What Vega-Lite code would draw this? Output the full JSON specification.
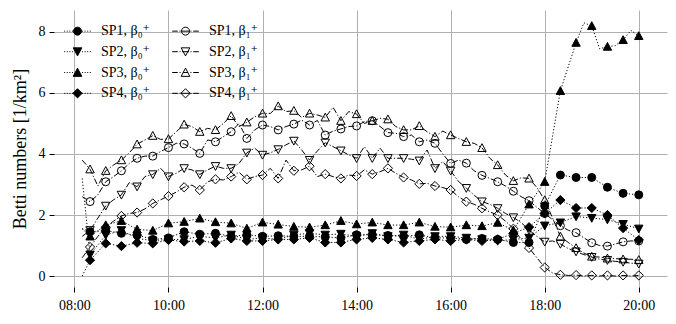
{
"$schema": "https://vega.github.io/schema/vega-lite/v6.json",
"width": 613, "height": 277,
"autosize": {"type": "none"},
"padding": {"left": 54, "top": 10, "right": 9, "bottom": 37},
"background": "white",
"config": {
  "font": "Liberation Serif, Times New Roman, DejaVu Serif, serif",
  "view": {"stroke": null},
  "axis": {"grid": true, "gridColor": "#b0b0b0", "gridWidth": 1, "domain": false, "tickColor": "black", "tickSize": 5, "tickWidth": 1,
           "labelFont": "Liberation Serif, Times New Roman, DejaVu Serif, serif", "labelFontSize": 14, "labelColor": "black", "labelPadding": 4,
           "titleFont": "Liberation Serif, Times New Roman, DejaVu Serif, serif", "titleFontWeight": "normal", "titleColor": "black"}
},
"data": {"format": {"parse": {"t": "date:'%H:%M'"}}, "values": [
{"t":"08:10","SP1_b0":1.55,"SP2_b0":3.2,"SP3_b0":1.55,"SP4_b0":0.0,"SP1_b1":2.6,"SP2_b1":1.3,"SP3_b1":3.8,"SP4_b1":0.6},
{"t":"08:20","SP1_b0":1.45,"SP2_b0":0.7,"SP3_b0":1.3,"SP4_b0":0.52,"SP1_b1":2.44,"SP2_b1":1.5,"SP3_b1":3.5,"SP4_b1":0.95},
{"t":"08:30","SP1_b1":2.66,"SP2_b1":1.9,"SP3_b1":2.95,"SP4_b1":1.3},
{"t":"08:40","SP1_b0":1.49,"SP2_b0":1.34,"SP3_b0":1.67,"SP4_b0":1.07,"SP1_b1":3.09,"SP2_b1":2.3,"SP3_b1":3.45,"SP4_b1":1.6},
{"t":"08:50","SP1_b1":3.26,"SP2_b1":2.5,"SP3_b1":3.64,"SP4_b1":1.8},
{"t":"09:00","SP1_b0":1.4,"SP2_b0":1.5,"SP3_b0":1.81,"SP4_b0":0.98,"SP1_b1":3.45,"SP2_b1":2.66,"SP3_b1":3.8,"SP4_b1":1.97},
{"t":"09:10","SP1_b1":3.69,"SP2_b1":3.06,"SP3_b1":4.04,"SP4_b1":2.05},
{"t":"09:20","SP1_b0":1.34,"SP2_b0":1.23,"SP3_b0":1.53,"SP4_b0":1.09,"SP1_b1":3.86,"SP2_b1":2.93,"SP3_b1":4.32,"SP4_b1":2.08},
{"t":"09:30","SP1_b1":3.93,"SP2_b1":3.26,"SP3_b1":4.46,"SP4_b1":2.2},
{"t":"09:40","SP1_b0":1.2,"SP2_b0":1.16,"SP3_b0":1.49,"SP4_b0":1.07,"SP1_b1":3.93,"SP2_b1":3.33,"SP3_b1":4.6,"SP4_b1":2.38},
{"t":"09:50","SP1_b1":4.08,"SP2_b1":3.53,"SP3_b1":4.48,"SP4_b1":2.5},
{"t":"10:00","SP1_b0":1.25,"SP2_b0":1.2,"SP3_b0":1.73,"SP4_b0":1.18,"SP1_b1":4.21,"SP2_b1":3.26,"SP3_b1":4.49,"SP4_b1":2.62},
{"t":"10:10","SP1_b1":4.35,"SP2_b1":3.37,"SP3_b1":4.73,"SP4_b1":2.75},
{"t":"10:20","SP1_b0":1.45,"SP2_b0":1.2,"SP3_b0":1.78,"SP4_b0":1.13,"SP1_b1":4.33,"SP2_b1":3.53,"SP3_b1":4.97,"SP4_b1":2.91},
{"t":"10:30","SP1_b1":4.19,"SP2_b1":3.48,"SP3_b1":4.9,"SP4_b1":2.98},
{"t":"10:40","SP1_b0":1.37,"SP2_b0":1.3,"SP3_b0":1.89,"SP4_b0":1.15,"SP1_b1":4.02,"SP2_b1":3.33,"SP3_b1":4.73,"SP4_b1":2.82},
{"t":"10:50","SP1_b1":4.46,"SP2_b1":3.48,"SP3_b1":4.84,"SP4_b1":3.09},
{"t":"11:00","SP1_b0":1.4,"SP2_b0":1.25,"SP3_b0":1.77,"SP4_b0":1.09,"SP1_b1":4.4,"SP2_b1":3.6,"SP3_b1":4.79,"SP4_b1":3.17},
{"t":"11:10","SP1_b1":4.57,"SP2_b1":3.53,"SP3_b1":5.0,"SP4_b1":3.15},
{"t":"11:20","SP1_b0":1.3,"SP2_b0":1.35,"SP3_b0":1.73,"SP4_b0":1.23,"SP1_b1":4.73,"SP2_b1":3.53,"SP3_b1":5.25,"SP4_b1":3.26},
{"t":"11:30","SP1_b1":5.0,"SP2_b1":3.69,"SP3_b1":4.9,"SP4_b1":3.4},
{"t":"11:40","SP1_b0":1.35,"SP2_b0":1.2,"SP3_b0":1.56,"SP4_b0":1.15,"SP1_b1":4.51,"SP2_b1":4.04,"SP3_b1":5.04,"SP4_b1":3.17},
{"t":"11:50","SP1_b1":4.79,"SP2_b1":4.19,"SP3_b1":5.22,"SP4_b1":3.26},
{"t":"12:00","SP1_b0":1.3,"SP2_b0":1.25,"SP3_b0":1.76,"SP4_b0":1.15,"SP1_b1":4.95,"SP2_b1":3.97,"SP3_b1":5.33,"SP4_b1":3.31},
{"t":"12:10","SP1_b1":4.9,"SP2_b1":4.04,"SP3_b1":5.33,"SP4_b1":3.53},
{"t":"12:20","SP1_b0":1.32,"SP2_b0":1.2,"SP3_b0":1.69,"SP4_b0":1.2,"SP1_b1":4.79,"SP2_b1":4.15,"SP3_b1":5.57,"SP4_b1":3.2},
{"t":"12:30","SP1_b1":4.9,"SP2_b1":4.3,"SP3_b1":5.39,"SP4_b1":3.8},
{"t":"12:40","SP1_b0":1.3,"SP2_b0":1.35,"SP3_b0":1.62,"SP4_b0":1.2,"SP1_b1":4.98,"SP2_b1":4.43,"SP3_b1":5.42,"SP4_b1":3.45},
{"t":"12:50","SP1_b1":5.11,"SP2_b1":4.13,"SP3_b1":5.2,"SP4_b1":3.48},
{"t":"13:00","SP1_b0":1.3,"SP2_b0":1.4,"SP3_b0":1.6,"SP4_b0":1.25,"SP1_b1":4.95,"SP2_b1":3.8,"SP3_b1":5.33,"SP4_b1":3.6},
{"t":"13:10","SP1_b1":5.1,"SP2_b1":4.1,"SP3_b1":5.28,"SP4_b1":3.26},
{"t":"13:20","SP1_b0":1.28,"SP2_b0":1.35,"SP3_b0":1.67,"SP4_b0":1.1,"SP1_b1":4.62,"SP2_b1":4.37,"SP3_b1":5.2,"SP4_b1":3.34},
{"t":"13:30","SP1_b1":4.75,"SP2_b1":4.24,"SP3_b1":5.53,"SP4_b1":3.26},
{"t":"13:40","SP1_b0":1.25,"SP2_b0":1.38,"SP3_b0":1.81,"SP4_b0":1.1,"SP1_b1":4.82,"SP2_b1":4.11,"SP3_b1":5.09,"SP4_b1":3.2},
{"t":"13:50","SP1_b1":4.9,"SP2_b1":3.97,"SP3_b1":5.39,"SP4_b1":3.31},
{"t":"14:00","SP1_b0":1.35,"SP2_b0":1.3,"SP3_b0":1.7,"SP4_b0":1.2,"SP1_b1":4.92,"SP2_b1":3.86,"SP3_b1":5.31,"SP4_b1":3.28},
{"t":"14:10","SP1_b1":5.06,"SP2_b1":4.24,"SP3_b1":5.0,"SP4_b1":3.48},
{"t":"14:20","SP1_b0":1.35,"SP2_b0":1.4,"SP3_b0":1.76,"SP4_b0":1.25,"SP1_b1":5.09,"SP2_b1":3.86,"SP3_b1":5.09,"SP4_b1":3.34},
{"t":"14:30","SP1_b1":4.9,"SP2_b1":4.19,"SP3_b1":5.17,"SP4_b1":3.42},
{"t":"14:40","SP1_b0":1.33,"SP2_b0":1.3,"SP3_b0":1.67,"SP4_b0":1.2,"SP1_b1":4.7,"SP2_b1":3.86,"SP3_b1":5.14,"SP4_b1":3.53},
{"t":"14:50","SP1_b1":4.68,"SP2_b1":3.86,"SP3_b1":4.9,"SP4_b1":3.37},
{"t":"15:00","SP1_b0":1.3,"SP2_b0":1.35,"SP3_b0":1.67,"SP4_b0":1.1,"SP1_b1":4.57,"SP2_b1":3.86,"SP3_b1":4.79,"SP4_b1":3.23},
{"t":"15:10","SP1_b1":4.62,"SP2_b1":3.83,"SP3_b1":4.79,"SP4_b1":3.15},
{"t":"15:20","SP1_b0":1.35,"SP2_b0":1.2,"SP3_b0":1.76,"SP4_b0":1.15,"SP1_b1":4.4,"SP2_b1":3.78,"SP3_b1":4.92,"SP4_b1":3.02},
{"t":"15:30","SP1_b1":4.46,"SP2_b1":4.13,"SP3_b1":4.73,"SP4_b1":3.04},
{"t":"15:40","SP1_b0":1.25,"SP2_b0":1.3,"SP3_b0":1.62,"SP4_b0":1.2,"SP1_b1":4.35,"SP2_b1":3.53,"SP3_b1":4.57,"SP4_b1":2.95},
{"t":"15:50","SP1_b1":4.0,"SP2_b1":3.75,"SP3_b1":4.75,"SP4_b1":2.9},
{"t":"16:00","SP1_b0":1.25,"SP2_b0":1.3,"SP3_b0":1.6,"SP4_b0":1.15,"SP1_b1":3.69,"SP2_b1":3.45,"SP3_b1":4.62,"SP4_b1":2.82},
{"t":"16:10","SP1_b1":3.8,"SP2_b1":3.1,"SP3_b1":4.51,"SP4_b1":2.6},
{"t":"16:20","SP1_b0":1.2,"SP2_b0":1.25,"SP3_b0":1.67,"SP4_b0":1.2,"SP1_b1":3.7,"SP2_b1":2.88,"SP3_b1":4.4,"SP4_b1":2.44},
{"t":"16:30","SP1_b1":3.45,"SP2_b1":2.65,"SP3_b1":4.35,"SP4_b1":2.35},
{"t":"16:40","SP1_b0":1.23,"SP2_b0":1.2,"SP3_b0":1.64,"SP4_b0":1.15,"SP1_b1":3.3,"SP2_b1":2.44,"SP3_b1":4.2,"SP4_b1":2.22},
{"t":"16:50","SP1_b1":3.2,"SP2_b1":2.35,"SP3_b1":3.86,"SP4_b1":2.1},
{"t":"17:00","SP1_b0":1.2,"SP2_b0":1.15,"SP3_b0":1.75,"SP4_b0":1.2,"SP1_b1":3.09,"SP2_b1":2.22,"SP3_b1":3.64,"SP4_b1":2.0},
{"t":"17:10","SP1_b1":2.95,"SP2_b1":2.05,"SP3_b1":3.31,"SP4_b1":1.8},
{"t":"17:20","SP1_b0":1.1,"SP2_b0":1.2,"SP3_b0":1.5,"SP4_b0":1.4,"SP1_b1":2.78,"SP2_b1":1.92,"SP3_b1":3.12,"SP4_b1":1.55},
{"t":"17:30","SP1_b1":2.6,"SP2_b1":1.75,"SP3_b1":3.22,"SP4_b1":1.2},
{"t":"17:40","SP1_b0":1.1,"SP2_b0":1.25,"SP3_b0":2.35,"SP4_b0":1.6,"SP1_b1":2.47,"SP2_b1":1.51,"SP3_b1":3.2,"SP4_b1":0.92},
{"t":"17:50","SP1_b1":2.25,"SP2_b1":1.3,"SP3_b1":2.9,"SP4_b1":0.6},
{"t":"18:00","SP1_b0":2.3,"SP2_b0":1.65,"SP3_b0":3.09,"SP4_b0":2.05,"SP1_b1":2.05,"SP2_b1":1.12,"SP3_b1":2.49,"SP4_b1":0.28},
{"t":"18:10","SP1_b1":1.85,"SP2_b1":1.15,"SP3_b1":1.9,"SP4_b1":0.1},
{"t":"18:20","SP1_b0":3.31,"SP2_b0":1.75,"SP3_b0":6.07,"SP4_b0":2.49,"SP1_b1":1.65,"SP2_b1":1.05,"SP3_b1":1.3,"SP4_b1":0.04},
{"t":"18:30","SP1_b1":1.5,"SP2_b1":0.9,"SP3_b1":1.1,"SP4_b1":0.02},
{"t":"18:40","SP1_b0":3.23,"SP2_b0":1.95,"SP3_b0":7.65,"SP4_b0":2.23,"SP1_b1":1.42,"SP2_b1":0.8,"SP3_b1":0.92,"SP4_b1":0.03},
{"t":"18:50","SP3_b0":8.3,"SP1_b1":1.25,"SP2_b1":0.7,"SP3_b1":0.75,"SP4_b1":0.0},
{"t":"19:00","SP1_b0":3.23,"SP2_b0":1.9,"SP3_b0":8.2,"SP4_b0":2.23,"SP1_b1":1.09,"SP2_b1":0.62,"SP3_b1":0.64,"SP4_b1":0.02},
{"t":"19:10","SP3_b0":7.45,"SP1_b1":1.0,"SP2_b1":0.55,"SP3_b1":0.62,"SP4_b1":0.0},
{"t":"19:20","SP1_b0":2.91,"SP2_b0":1.85,"SP3_b0":7.52,"SP4_b0":2.0,"SP1_b1":0.98,"SP2_b1":0.52,"SP3_b1":0.58,"SP4_b1":0.02},
{"t":"19:30","SP3_b0":7.55,"SP1_b1":1.05,"SP2_b1":0.48,"SP3_b1":0.57,"SP4_b1":0.0},
{"t":"19:40","SP1_b0":2.71,"SP2_b0":1.7,"SP3_b0":7.74,"SP4_b0":1.57,"SP1_b1":1.12,"SP2_b1":0.46,"SP3_b1":0.55,"SP4_b1":0.02},
{"t":"19:50","SP3_b0":8.05,"SP1_b1":1.15,"SP2_b1":0.42,"SP3_b1":0.55,"SP4_b1":0.0},
{"t":"20:00","SP1_b0":2.66,"SP2_b0":1.55,"SP3_b0":7.87,"SP4_b0":1.18,"SP1_b1":1.15,"SP2_b1":0.4,"SP3_b1":0.53,"SP4_b1":0.02}
]},
"transform": [
  {"fold": ["SP1_b0","SP1_b1","SP2_b0","SP2_b1","SP3_b0","SP3_b1","SP4_b0","SP4_b1"], "as": ["series","value"]},
  {"filter": "isValid(datum.value)"}
],
"encoding": {
  "x": {"field": "t", "type": "temporal",
        "scale": {"domain": [{"year":1900,"month":1,"date":1,"hours":7,"minutes":34},{"year":1900,"month":1,"date":1,"hours":20,"minutes":36}]},
        "axis": {"title": null, "format": "%H:%M", "labelPadding": 6, "values": [
          {"year":1900,"month":1,"date":1,"hours":8},{"year":1900,"month":1,"date":1,"hours":10},{"year":1900,"month":1,"date":1,"hours":12},
          {"year":1900,"month":1,"date":1,"hours":14},{"year":1900,"month":1,"date":1,"hours":16},{"year":1900,"month":1,"date":1,"hours":18},
          {"year":1900,"month":1,"date":1,"hours":20}], "labelFlush": false, "labelOverlap": false}},
  "y": {"field": "value", "type": "quantitative",
        "scale": {"domain": [-0.36, 8.72], "nice": false, "zero": false},
        "axis": {"title": "Betti numbers [1/km²]", "titleFontSize": 18, "titlePadding": 9, "values": [0,2,4,6,8]}}
},
"layer": [
  {"mark": {"type": "line", "stroke": "black", "strokeWidth": 1},
   "encoding": {
     "detail": {"field": "series"},
     "strokeDash": {"field": "series",
       "scale": {"domain": ["SP1_b0","SP1_b1","SP2_b0","SP2_b1","SP3_b0","SP3_b1","SP4_b0","SP4_b1"],
                 "range": [[1.2,2],[6,2,1.2,2],[1.2,2],[6,2,1.2,2],[1.2,2],[6,2,1.2,2],[1.2,2],[6,2,1.2,2]]},
       "legend": null}}},
  {"transform": [{"filter": "minutes(datum.t) % 20 == 0"}],
   "mark": {"type": "point", "filled": true, "stroke": "black", "strokeWidth": 1, "size": 64, "opacity": 1},
   "encoding": {
     "shape": {"field": "series",
       "scale": {"domain": ["SP1_b0","SP1_b1","SP2_b0","SP2_b1","SP3_b0","SP3_b1","SP4_b0","SP4_b1"],
                 "range": ["circle","circle","M-1.05,-0.9L1.05,-0.9L0,1.05Z","M-1.05,-0.9L1.05,-0.9L0,1.05Z","M0,-1.05L1.05,0.9L-1.05,0.9Z","M0,-1.05L1.05,0.9L-1.05,0.9Z","M0,-1.15L1.15,0L0,1.15L-1.15,0Z","M0,-1.15L1.15,0L0,1.15L-1.15,0Z"]},
       "legend": null},
     "fill": {"field": "series",
       "scale": {"domain": ["SP1_b0","SP1_b1","SP2_b0","SP2_b1","SP3_b0","SP3_b1","SP4_b0","SP4_b1"],
                 "range": ["black","transparent","black","transparent","black","transparent","black","transparent"]},
       "legend": null}}},
  {"transform": [{"filter": "hours(datum.t) == 20"}],
   "mark": {"type": "point", "filled": true, "stroke": "black", "strokeWidth": 1, "opacity": 0},
   "encoding": {
     "shape": {"field": "series",
       "scale": {"domain": ["SP1_b0","SP2_b0","SP3_b0","SP4_b0","SP1_b1","SP2_b1","SP3_b1","SP4_b1"],
                 "range": [
                   "M-1.9,0h0.14M-1.53,0h0.14M-1.16,0h0.14M-0.79,0h0.14M0.65,0h0.14M1.02,0h0.14M1.39,0h0.14M1.76,0h0.14M-0.57,0A0.57,0.57,0,1,1,0.57,0A0.57,0.57,0,1,1,-0.57,0Z",
                   "M-1.9,0h0.14M-1.53,0h0.14M-1.16,0h0.14M-0.79,0h0.14M0.65,0h0.14M1.02,0h0.14M1.39,0h0.14M1.76,0h0.14M-0.62,-0.55L0.62,-0.55L0,0.6Z",
                   "M-1.9,0h0.14M-1.53,0h0.14M-1.16,0h0.14M-0.79,0h0.14M0.65,0h0.14M1.02,0h0.14M1.39,0h0.14M1.76,0h0.14M0,-0.62L0.62,0.55L-0.62,0.55Z",
                   "M-1.9,0h0.14M-1.53,0h0.14M-1.16,0h0.14M-0.79,0h0.14M0.65,0h0.14M1.02,0h0.14M1.39,0h0.14M1.76,0h0.14M0,-0.66L0.66,0L0,0.66L-0.66,0Z",
                   "M-1.9,0h0.8M-0.85,0h0.15M-0.57,0h1.14M0.7,0h0.15M1.1,0h0.8M-0.57,0A0.57,0.57,0,1,1,0.57,0A0.57,0.57,0,1,1,-0.57,0Z",
                   "M-1.9,0h0.8M-0.85,0h0.15M-0.5,0h1.0M0.7,0h0.15M1.1,0h0.8M-0.62,-0.55L0.62,-0.55L0,0.6Z",
                   "M-1.9,0h0.8M-0.85,0h0.15M-0.35,0h0.7M0.7,0h0.15M1.1,0h0.8M0,-0.62L0.62,0.55L-0.62,0.55Z",
                   "M-1.9,0h0.8M-0.85,0h0.15M-0.66,0h1.32M0.7,0h0.15M1.1,0h0.8M0,-0.66L0.66,0L0,0.66L-0.66,0Z"]},
       "legend": {"title": null, "orient": "none", "legendX": 16, "legendY": 13.4, "columns": 2, "padding": 0,
                  "symbolSize": 196, "symbolStrokeColor": "black", "symbolStrokeWidth": 1,
                  "labelFont": "Liberation Serif, Times New Roman, DejaVu Serif, serif", "labelFontSize": 14, "labelColor": "black", "labelOffset": 16, "labelLimit": 0,
                  "rowPadding": 5.8, "columnPadding": 20,
                  "labelExpr": "slice(datum.label,0,3) + ', β' + (slice(datum.label,5,6) == '0' ? '₀' : '₁') + '⁺'",
                  "encode": {"symbols": {"update": {"opacity": {"value": 1}}}}}},
     "fill": {"field": "series",
       "scale": {"domain": ["SP1_b0","SP2_b0","SP3_b0","SP4_b0","SP1_b1","SP2_b1","SP3_b1","SP4_b1"],
                 "range": ["black","black","black","black","transparent","transparent","transparent","transparent"]},
       "legend": {"title": null, "orient": "none", "legendX": 16, "legendY": 13.4, "columns": 2, "padding": 0,
                  "symbolSize": 196, "symbolStrokeColor": "black", "symbolStrokeWidth": 1,
                  "labelFont": "Liberation Serif, Times New Roman, DejaVu Serif, serif", "labelFontSize": 14, "labelColor": "black", "labelOffset": 16, "labelLimit": 0,
                  "rowPadding": 5.8, "columnPadding": 20,
                  "labelExpr": "slice(datum.label,0,3) + ', β' + (slice(datum.label,5,6) == '0' ? '₀' : '₁') + '⁺'",
                  "encode": {"symbols": {"update": {"opacity": {"value": 1}}}}}}}}
],
"resolve": {"scale": {"shape": "independent", "fill": "independent", "strokeDash": "independent"}}
}
